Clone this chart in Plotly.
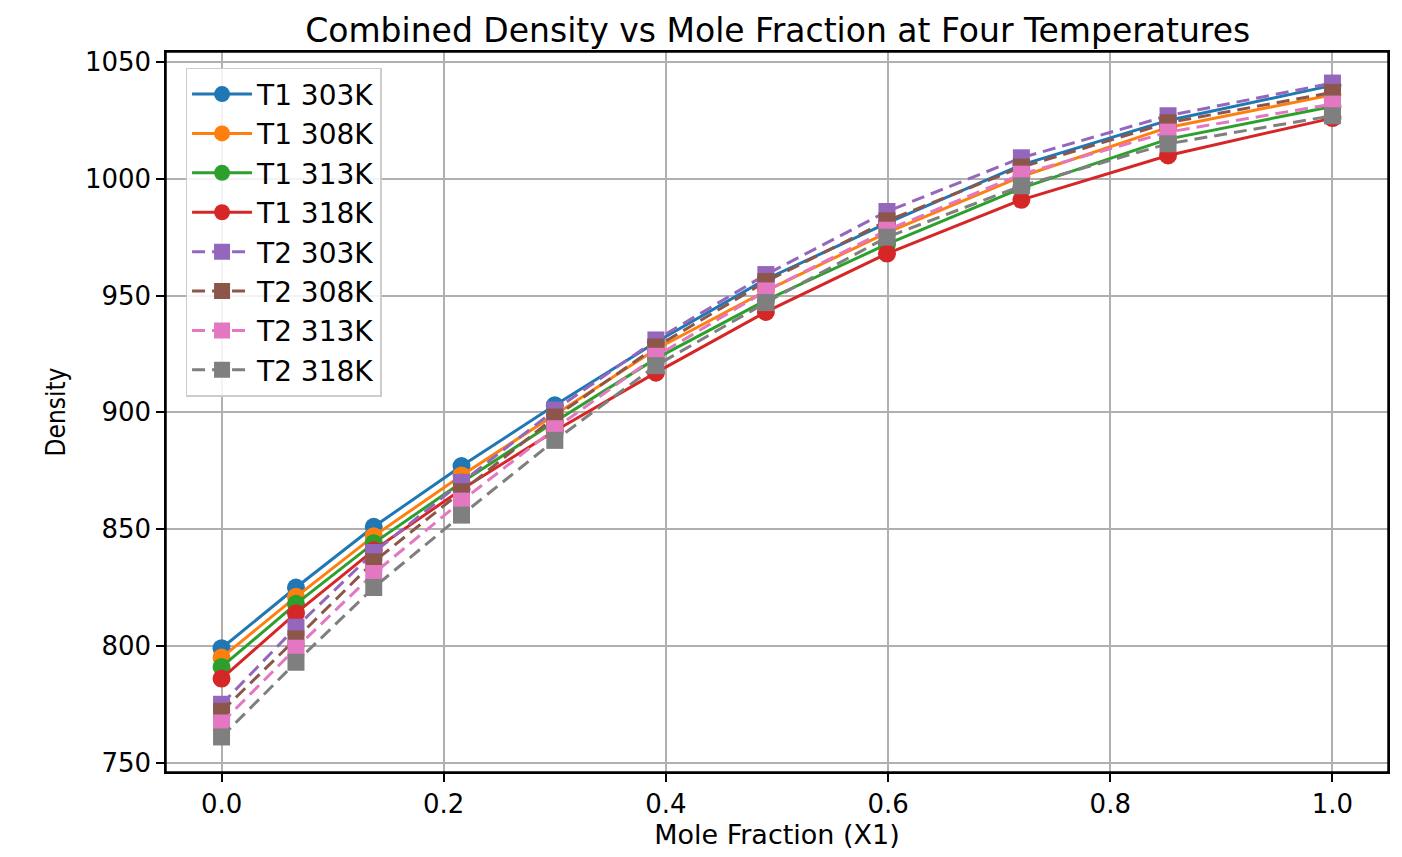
import plotly.graph_objects as go

# mole fraction points
x1 = [0.0, 0.067, 0.137, 0.216, 0.300, 0.391, 0.490, 0.599, 0.720, 0.852, 1.0]

# density, T1 (solid, circles) and T2 (dashed, squares)
t1_303 = [799, 825, 851, 877, 903, 930, 957, 981, 1006, 1025, 1040]
t1_308 = [795, 821, 847, 873, 899, 927, 952, 977, 1001, 1022, 1036]
t1_313 = [791, 818, 844, 870, 896, 923, 948, 972, 996, 1017, 1031]
t1_318 = [786, 814, 841, 867, 892, 917, 943, 968, 991, 1010, 1026]
t2_303 = [775, 808, 840, 870, 901, 931, 959, 986, 1009, 1027, 1041]
t2_308 = [772, 803, 836, 866, 898, 928, 956, 982, 1005, 1024, 1037]
t2_313 = [767, 799, 831, 862, 893, 924, 952, 978, 1002, 1020, 1032]
t2_318 = [761, 793, 825, 856, 888, 920, 947, 975, 997, 1015, 1027]

names = ['T1 303K', 'T1 308K', 'T1 313K', 'T1 318K',
         'T2 303K', 'T2 308K', 'T2 313K', 'T2 318K']
series = [t1_303, t1_308, t1_313, t1_318, t2_303, t2_308, t2_313, t2_318]
colors = ['#1f77b4', '#ff7f0e', '#2ca02c', '#d62728',
          '#9467bd', '#8c564b', '#e377c2', '#7f7f7f']

fig = go.Figure()
for i in range(len(series)):
    solid = i < 4
    fig.add_trace(go.Scatter(
        x=x1, y=series[i], name=names[i], mode='lines+markers',
        line=dict(color=colors[i], width=3, dash='solid' if solid else '13px,7px'),
        marker=dict(color=colors[i], size=18 if solid else 17,
                    symbol='circle' if solid else 'square')))

font = 'DejaVu Sans'
axis_style = dict(showline=True, linecolor='black', linewidth=1.5, mirror=True,
                  ticks='outside', ticklen=8, tickwidth=1.5, tickcolor='black',
                  showgrid=True, gridcolor='#b0b0b0', gridwidth=1.5, zeroline=False,
                  tickfont=dict(family=font, size=26, color='black'))

fig.update_layout(
    width=1402, height=857,
    margin=dict(l=158, r=22, t=44, b=93),
    paper_bgcolor='white', plot_bgcolor='white',
    title=dict(text='Combined Density vs Mole Fraction at Four Temperatures',
               x=0.549, xanchor='center', y=0.974, yanchor='middle',
               font=dict(family=font, size=33, color='black')),
    xaxis=dict(range=[-0.05, 1.05], tickvals=[0, 0.2, 0.4, 0.6, 0.8, 1.0],
               ticktext=['0.0', '0.2', '0.4', '0.6', '0.8', '1.0'],
               title=dict(text='Mole Fraction (X1)', standoff=6,
                          font=dict(family=font, size=27, color='black')),
               **axis_style),
    yaxis=dict(range=[746, 1054.3], tickvals=[750, 800, 850, 900, 950, 1000, 1050],
               title=dict(text='Density', standoff=12,
                          font=dict(family='DejaVu Sans Condensed, ' + font, size=26, color='black')),
               **axis_style),
    legend=dict(x=0.016, y=0.978, xanchor='left', yanchor='top',
                bgcolor='rgba(255,255,255,0.85)', bordercolor='#cccccc', borderwidth=1.5,
                font=dict(family=font, size=28, color='black'),
                itemwidth=60),
    showlegend=True,
)

# frame round the plot area, like the axes box
fig.add_shape(type='rect', xref='paper', yref='paper', x0=0, y0=0, x1=1, y1=1,
              line=dict(color='black', width=1.5), layer='above')

fig.write_html('out.html')
